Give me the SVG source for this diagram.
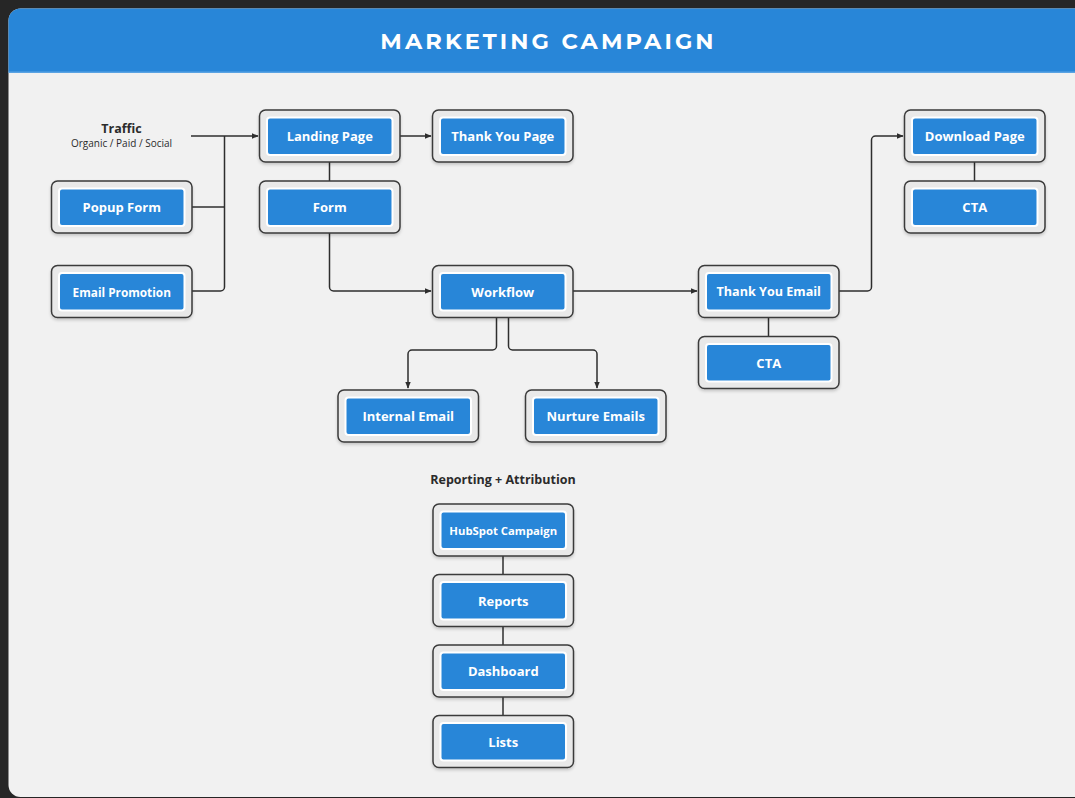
<svg xmlns="http://www.w3.org/2000/svg" width="1075" height="798" viewBox="0 0 1075 798">
<defs>
<style>
.outer{fill:#e9e9e9;stroke:#3a3a3a;stroke-width:1.5}
.inner{fill:#2886d8;stroke:#ffffff;stroke-width:2}
.lbl{font-family:"Open Sans","Liberation Sans",sans-serif;font-weight:700;font-size:13px;fill:#ffffff;text-anchor:middle;dominant-baseline:central}
.conn{fill:none;stroke:#2e2e2e;stroke-width:1.5}
.plain{font-family:"Open Sans","Liberation Sans",sans-serif;fill:#2b2b2b;text-anchor:middle}
</style>
<marker id="arr" viewBox="0 0 10 10" refX="9" refY="5" markerWidth="7" markerHeight="7" markerUnits="userSpaceOnUse" orient="auto">
<path d="M0,1 L10,5 L0,9 z" fill="#2e2e2e"/>
</marker>
<filter id="sh" x="-10%" y="-10%" width="120%" height="130%">
<feDropShadow dx="0" dy="2" stdDeviation="1.5" flood-color="#000" flood-opacity="0.18"/>
</filter>
</defs>
<rect x="0" y="0" width="1075" height="798" fill="#262626"/>
<rect x="8.5" y="8.5" width="1080" height="788.5" rx="12" fill="#f1f1f1"/>
<path d="M8.5,72 V20.5 a12,12 0 0 1 12,-12 H1075 V72 z" fill="#2886d8"/>
<rect x="8.5" y="71.5" width="1067" height="1.5" fill="#5aa3e3"/>
<text x="548.5" y="49" font-family="Montserrat,'Open Sans','Liberation Sans',sans-serif" font-weight="700" font-size="22.5" letter-spacing="3.1" fill="#ffffff" text-anchor="middle">MARKETING CAMPAIGN</text>

<g id="connectors">
<path class="conn" d="M191,136 H258" marker-end="url(#arr)"/>
<path class="conn" d="M192,207 H224.5"/>
<path class="conn" d="M192,291 H220.5 a4,4 0 0 0 4,-4 V136"/>
<path class="conn" d="M400,136 H431" marker-end="url(#arr)"/>
<path class="conn" d="M329.5,162 V181"/>
<path class="conn" d="M329.5,233 V287 a4,4 0 0 0 4,4 H431" marker-end="url(#arr)"/>
<path class="conn" d="M573,291 H697" marker-end="url(#arr)"/>
<path class="conn" d="M496.5,318 V346 a4,4 0 0 1 -4,4 H412 a4,4 0 0 0 -4,4 V388" marker-end="url(#arr)"/>
<path class="conn" d="M508.5,318 V346 a4,4 0 0 0 4,4 H593 a4,4 0 0 1 4,4 V388" marker-end="url(#arr)"/>
<path class="conn" d="M839,291 H867.5 a4,4 0 0 0 4,-4 V140 a4,4 0 0 1 4,-4 H903" marker-end="url(#arr)"/>
<path class="conn" d="M768.5,318 V336"/>
<path class="conn" d="M974.5,162 V181"/>
<path class="conn" d="M503,556 V575"/>
<path class="conn" d="M503,626 V645"/>
<path class="conn" d="M503,697 V716"/>
</g>

<g id="traffic">
<text class="plain" x="121.5" y="133" font-weight="700" font-size="12.5">Traffic</text>
<text class="plain" x="121.5" y="146.5" font-size="10" fill="#444">Organic / Paid / Social</text>
</g>

<g id="landing-page"><rect class="outer" x="259.5" y="110" width="140.5" height="52" rx="6" filter="url(#sh)"/><rect class="inner" x="267" y="117.5" width="125.5" height="37.5" rx="3"/><text class="lbl" x="329.75" y="136">Landing Page</text></g>
<g id="thank-you-page"><rect class="outer" x="432.5" y="110" width="140.5" height="52" rx="6" filter="url(#sh)"/><rect class="inner" x="440" y="117.5" width="125.5" height="37.5" rx="3"/><text class="lbl" x="502.75" y="136">Thank You Page</text></g>
<g id="form"><rect class="outer" x="259.5" y="181" width="140.5" height="52" rx="6" filter="url(#sh)"/><rect class="inner" x="267" y="188.5" width="125.5" height="37.5" rx="3"/><text class="lbl" x="329.75" y="207">Form</text></g>
<g id="popup-form"><rect class="outer" x="51.5" y="181" width="140.5" height="52" rx="6" filter="url(#sh)"/><rect class="inner" x="59" y="188.5" width="125.5" height="37.5" rx="3"/><text class="lbl" x="121.75" y="207">Popup Form</text></g>
<g id="email-promotion"><rect class="outer" x="51.5" y="265.5" width="140.5" height="52" rx="6" filter="url(#sh)"/><rect class="inner" x="59" y="273" width="125.5" height="37.5" rx="3"/><text class="lbl" x="121.75" y="291.5" style="font-size:11.8px">Email Promotion</text></g>
<g id="workflow"><rect class="outer" x="432.5" y="265.5" width="140.5" height="52" rx="6" filter="url(#sh)"/><rect class="inner" x="440" y="273" width="125.5" height="37.5" rx="3"/><text class="lbl" x="502.75" y="291.5">Workflow</text></g>
<g id="internal-email"><rect class="outer" x="338" y="390" width="140.5" height="52" rx="6" filter="url(#sh)"/><rect class="inner" x="345.5" y="397.5" width="125.5" height="37.5" rx="3"/><text class="lbl" x="408.25" y="416">Internal Email</text></g>
<g id="nurture-emails"><rect class="outer" x="525.5" y="390" width="140.5" height="52" rx="6" filter="url(#sh)"/><rect class="inner" x="533" y="397.5" width="125.5" height="37.5" rx="3"/><text class="lbl" x="595.75" y="416">Nurture Emails</text></g>
<g id="thank-you-email"><rect class="outer" x="698.5" y="265.5" width="140.5" height="52" rx="6" filter="url(#sh)"/><rect class="inner" x="706" y="273" width="125.5" height="37.5" rx="3"/><text class="lbl" x="768.75" y="291.5" style="font-size:12.6px">Thank You Email</text></g>
<g id="cta-email"><rect class="outer" x="698.5" y="336.5" width="140.5" height="52" rx="6" filter="url(#sh)"/><rect class="inner" x="706" y="344" width="125.5" height="37.5" rx="3"/><text class="lbl" x="768.75" y="362.5">CTA</text></g>
<g id="download-page"><rect class="outer" x="904.5" y="110" width="140.5" height="52" rx="6" filter="url(#sh)"/><rect class="inner" x="912" y="117.5" width="125.5" height="37.5" rx="3"/><text class="lbl" x="974.75" y="136">Download Page</text></g>
<g id="cta-download"><rect class="outer" x="904.5" y="181" width="140.5" height="52" rx="6" filter="url(#sh)"/><rect class="inner" x="912" y="188.5" width="125.5" height="37.5" rx="3"/><text class="lbl" x="974.75" y="207">CTA</text></g>

<g id="reporting-title"><text class="plain" x="503" y="484" font-weight="700" font-size="12.5">Reporting + Attribution</text></g>
<g id="hubspot-campaign"><rect class="outer" x="433" y="504" width="140.5" height="52" rx="6" filter="url(#sh)"/><rect class="inner" x="440.5" y="511.5" width="125.5" height="37.5" rx="3"/><text class="lbl" x="503.25" y="530" style="font-size:11.3px">HubSpot Campaign</text></g>
<g id="reports"><rect class="outer" x="433" y="574.5" width="140.5" height="52" rx="6" filter="url(#sh)"/><rect class="inner" x="440.5" y="582" width="125.5" height="37.5" rx="3"/><text class="lbl" x="503.25" y="600.5">Reports</text></g>
<g id="dashboard"><rect class="outer" x="433" y="645" width="140.5" height="52" rx="6" filter="url(#sh)"/><rect class="inner" x="440.5" y="652.5" width="125.5" height="37.5" rx="3"/><text class="lbl" x="503.25" y="671">Dashboard</text></g>
<g id="lists"><rect class="outer" x="433" y="715.5" width="140.5" height="52" rx="6" filter="url(#sh)"/><rect class="inner" x="440.5" y="723" width="125.5" height="37.5" rx="3"/><text class="lbl" x="503.25" y="741.5">Lists</text></g>
</svg>
